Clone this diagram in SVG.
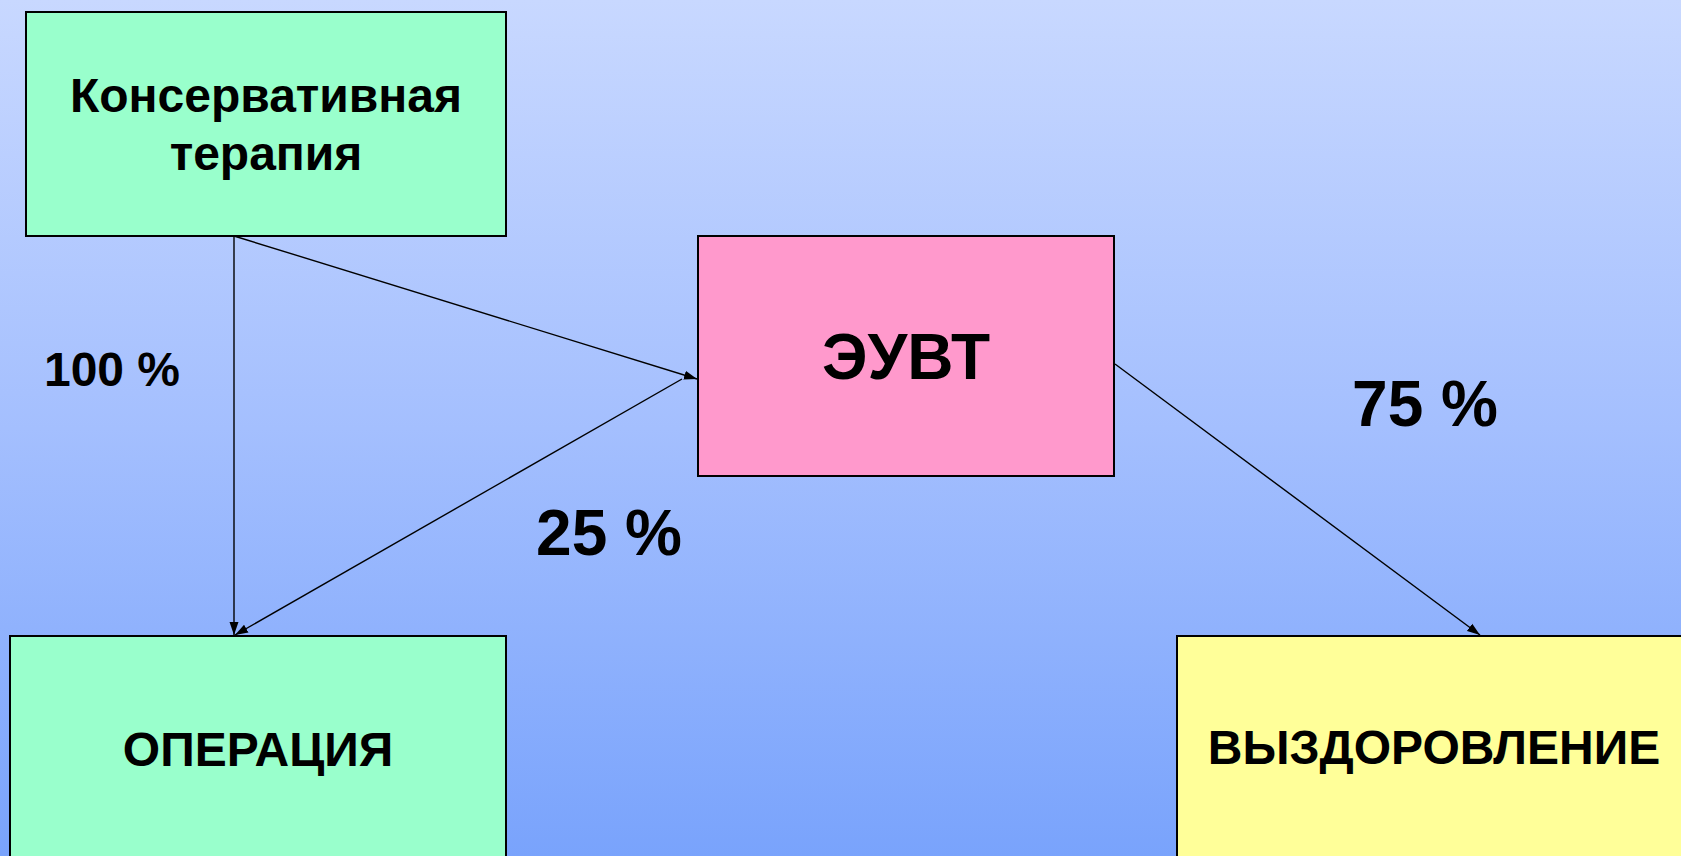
<svg xmlns="http://www.w3.org/2000/svg" width="1681" height="856" viewBox="0 0 1681 856">
<defs>
<linearGradient id="bg" x1="0" y1="0" x2="0" y2="1">
<stop offset="0" stop-color="#c8d8ff"/>
<stop offset="0.5" stop-color="#a4bffe"/>
<stop offset="1" stop-color="#79a3fc"/>
</linearGradient>
<marker id="arr" markerUnits="userSpaceOnUse" markerWidth="14" markerHeight="10" refX="13" refY="5" orient="auto">
<path d="M0,0.5 L13,5 L0,9.5 z" fill="#000"/>
</marker>
<style>
.box{stroke:#000;stroke-width:2}
.t{font-family:"Liberation Sans",Arial,sans-serif;font-weight:bold;fill:#000;text-anchor:middle}
.c{stroke:#000;stroke-width:1.4;fill:none;marker-end:url(#arr)}
</style>
</defs>
<rect x="0" y="0" width="1681" height="856" fill="url(#bg)"/>
<g id="connectors">
<line class="c" x1="234" y1="236" x2="234" y2="635"/>
<line class="c" x1="234" y1="236" x2="697" y2="379"/>
<line class="c" x1="682" y1="379" x2="235" y2="635"/>
<line class="c" x1="1115" y1="364" x2="1480" y2="635"/>
</g>
<g id="node-conservative">
<rect class="box" x="26" y="12" width="480" height="224" fill="#99ffcc"/>
<text class="t" x="266" y="112" font-size="48">Консервативная</text>
<text class="t" x="266" y="170" font-size="48">терапия</text>
</g>
<g id="node-euvt">
<rect class="box" x="698" y="236" width="416" height="240" fill="#ff99cc"/>
<text class="t" x="906" y="379" font-size="64">ЭУВТ</text>
</g>
<g id="node-operation">
<rect class="box" x="10" y="636" width="496" height="240" fill="#99ffcc"/>
<text class="t" x="258" y="766" font-size="48">ОПЕРАЦИЯ</text>
</g>
<g id="node-recovery">
<rect class="box" x="1177" y="636" width="520" height="240" fill="#ffff99"/>
<text class="t" x="1434" y="764" font-size="48">ВЫЗДОРОВЛЕНИЕ</text>
</g>
<g id="labels">
<text class="t" x="112" y="386" font-size="48">100 %</text>
<text class="t" x="1425" y="426" font-size="64">75 %</text>
<text class="t" x="609" y="555" font-size="64">25 %</text>
</g>
</svg>
